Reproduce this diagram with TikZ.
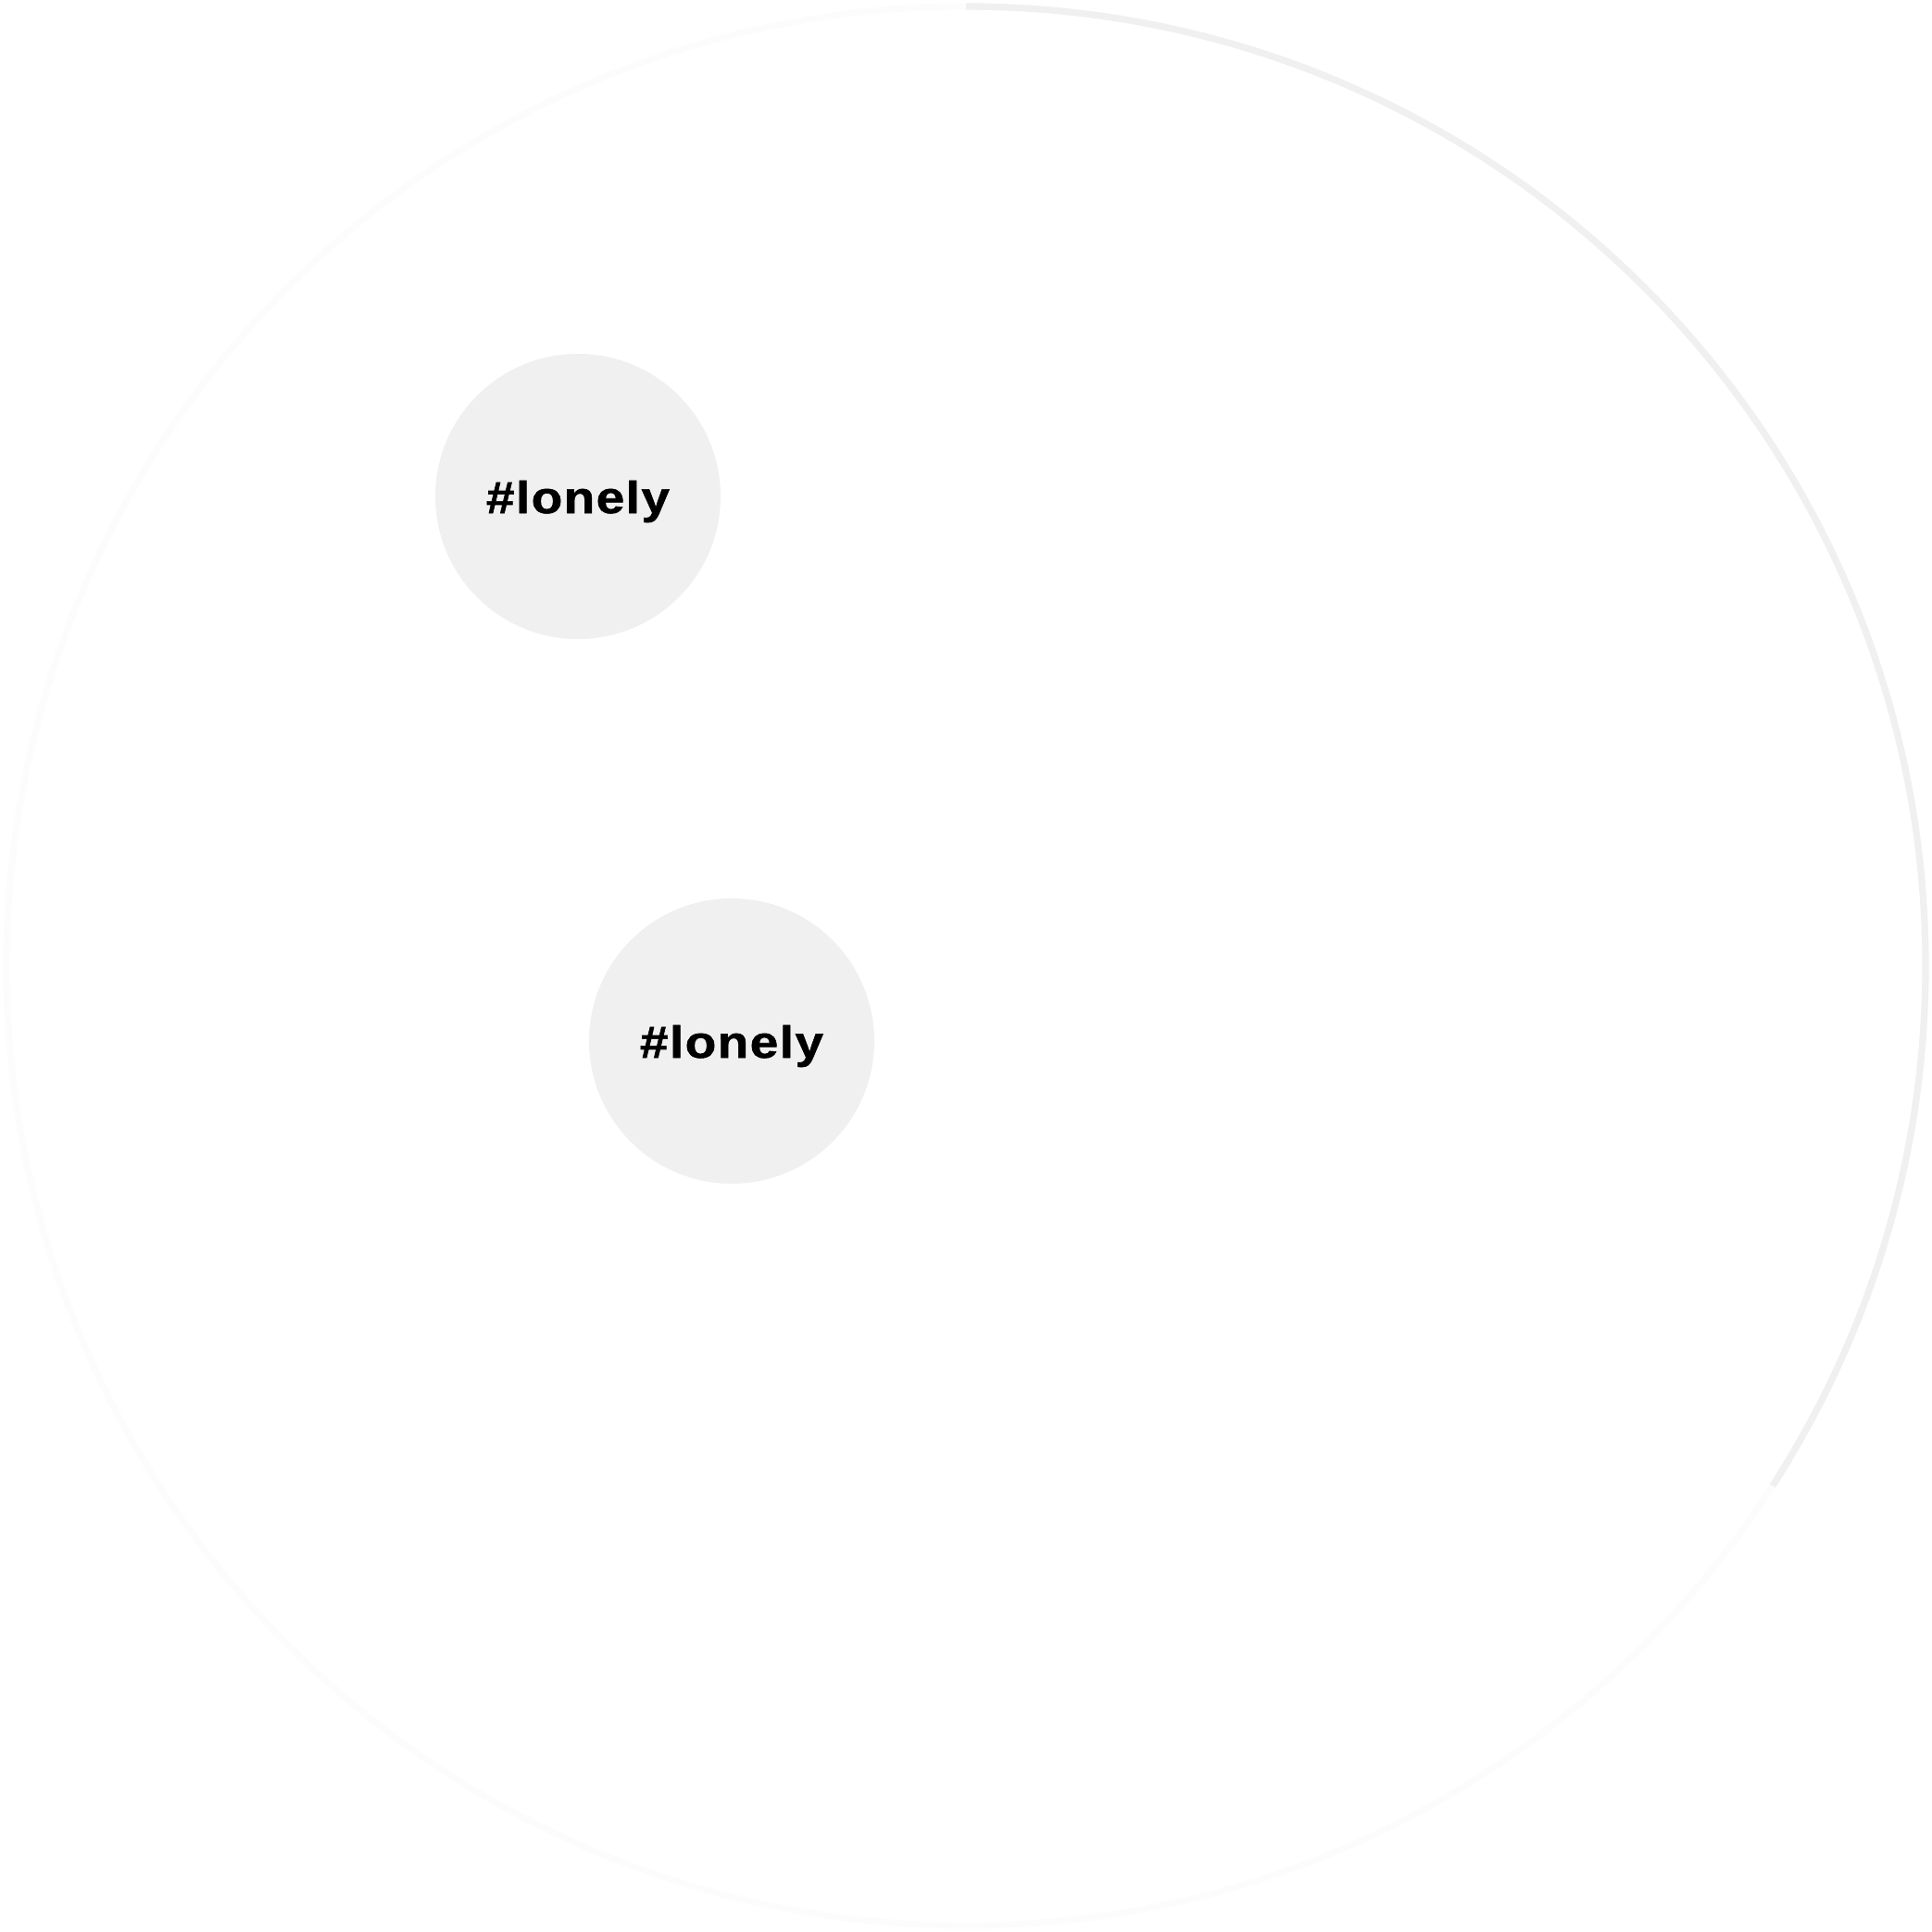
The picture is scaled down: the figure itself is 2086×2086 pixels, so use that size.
\documentclass[tikz,border=0pt]{standalone}
\usepackage{fontspec}
\newfontfamily\tagfont{Liberation Sans}[FakeStretch=1.13,LetterSpace=3,FakeBold=1.2]
\definecolor{ringfaint}{HTML}{FCFCFC}
\definecolor{ringprog}{HTML}{F0F0F0}
\definecolor{bubble}{HTML}{F0F0F0}
\begin{document}
\begin{tikzpicture}[x=0.5pt,y=-0.5pt,
  bubblestyle/.style={circle,fill=bubble,minimum size=154pt,inner sep=0pt},
  tagstyle/.style={anchor=base,inner sep=0pt,font=\tagfont\bfseries\fontsize{24.3pt}{29pt}\selectfont,text=black}]
\useasboundingbox (0,0) rectangle (2086,2086);
\coordinate (ctr) at (1043,1043);
\draw[ringfaint,line width=3.6pt] (ctr) circle[radius=1036];
\draw[ringprog,line width=3.6pt] (1043,7) arc[start angle=-90,end angle=32.8,radius=1036];
\node[bubblestyle] (b1) at (624,536) {};
\node[bubblestyle] (b2) at (790,1124) {};
\node[tagstyle] (t1) at (624,554) {\#lonely};
\node[tagstyle] (t2) at (790,1142) {\#lonely};
\end{tikzpicture}
\end{document}
